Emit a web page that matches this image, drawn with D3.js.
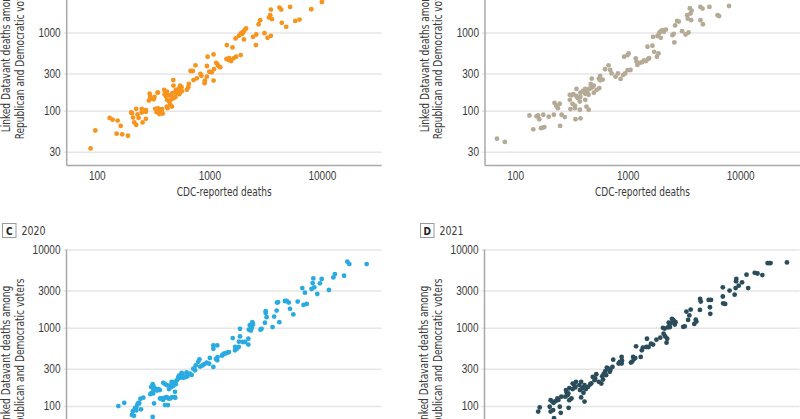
<!DOCTYPE html>
<html>
<head>
<meta charset="utf-8">
<script src="https://cdn.jsdelivr.net/npm/d3@7"></script>
<style>
  body { margin: 0; background: #fff; }
  svg { display: block; font-family: "Liberation Sans Narrow", "DejaVu Sans Condensed", "Roboto", sans-serif; }
  .tick text { fill: #3a3a3a; font-size: 12px; }
  .grid line { stroke: #e6e6e6; stroke-width: 1.5; }
  .axis-line { stroke: #a8a8a8; stroke-width: 1.5; }
  .title { fill: #3a3a3a; font-size: 12px; }
</style>
</head>
<body>
<div id="chart"></div>
<script>
// values: [CDC-reported deaths, linked Datavant deaths]
const deaths2018 = [
  [10000,2450],[8040,1980],[5220,2120],[4200,2080],[4350,1960],[3520,1960],[3475,1660],[3380,1550],[3600,1480],[2830,1435],[2740,1275],[4400,1330],[4820,1180],[5800,1405],[6330,1460],
  [3090,980],[3520,907],[3290,855],[2610,943],[2440,880],[2590,690],
  [2120,1125],[2050,1070],[1990,1020],[1905,970],[1830,907],[2030,815],[1710,839],[1950,960],[2000,1000],
  [1430,690],[1605,645],[1090,525],[965,490],
  [1480,445],[1560,432],[1640,468],[1730,490],[1900,515],[1420,460],[1500,470],
  [1150,410],[1180,390],[1210,370],[1250,360],[1100,340],[1050,310],[1000,315],[951,373],[753,381],[681,322],[713,322],[1090,243],[912,243],[906,225],[950,273],[834,295],[850,280],[774,260],[723,247],[657,220],[650,200],[631,185],
  [550,210],[565,200],[535,192],[525,180],[515,170],[550,172],[570,178],[540,163],
  [478,247],[480,210],[505,185],[495,172],[470,168],[455,160],[440,157],[420,160],[410,155],[400,163],[420,175],[397,185],[346,171],[350,171],
  [295,165],[298,150],[300,142],[290,135],[320,140],[325,150],
  [420,138],[440,130],[460,140],[480,145],[500,150],[450,120],
  [330,106],[345,103],[360,104],[380,105],[375,97],[385,92],[360,91],[340,96],[350,107],
  [419,113],[425,108],[465,113],
  [273,102],[273,97],[251,106],[251,95],[224,106],[202,95],[205,93],[230,90],[210,82],[235,81],[273,79],[255,71],[215,71],[224,66],
  [130,81],[138,77],[153,75],[163,64],[150,51],[168,50],[189,48],[97,56],[88,33]
];
const deaths2019 = [
  [7960,2180],[6300,1660],[6500,1620],[5330,2120],[4430,2120],[4630,2020],[4430,1435],[4660,1275],[3570,2040],[3620,1745],[3660,1435],[3700,1900],[3380,1660],[3420,1500],[2750,1405],[2850,1380],[2640,1230],[3050,1040],[3270,943],[3475,1000],[2565,962],[2500,925],[2600,747],
  [2190,1090],[2040,1070],[1940,1020],[1900,970],[1840,900],[1970,855],[1680,880],[2100,1020],[2000,1050],
  [1880,541],[1820,490],[1720,567],[1500,657],[1660,677],
  [1230,404],[1220,385],[1200,425],[1290,410],[1350,420],[1400,440],[1450,430],[1520,460],[1550,470],[1180,468],
  [1000,515],[1020,540],[930,490],
  [1060,332],[1000,330],[911,287],[865,255],[780,273],[700,332],[676,381],[630,339],[720,300],[820,300],[950,300],
  [570,278],[555,258],[600,250],[570,245],[480,258],
  [470,220],[500,210],[485,200],[470,195],[460,192],[450,188],[430,182],[410,175],[420,165],[440,168],[400,180],
  [380,170],[420,190],[450,160],[500,170],[530,185],[560,195],
  [351,190],[306,160],[318,158],[330,163],[306,138],[324,122],[340,116],[376,131],[420,138],[430,113],[376,103],[340,108],[310,105],[380,150],[360,145],[350,155],
  [249,123],[240,108],[259,89],[276,83],[224,126],[232,116],[221,89],[199,84],[178,89],[160,87],[155,85],[134,87],[164,78],
  [176,61],[170,60],[182,62],[145,58],[251,64],[344,78],[381,80],[451,103],[69,44],[81,40]
];
const deaths2020 = [
  [25100,6520],[16900,6970],[17600,6520],[15800,4620],[13100,4850],[12700,4400],[11600,3040],[10000,4200],[9640,3700],[8430,4270],[8310,3730],[8130,3130],[8600,3290],[9140,2700],
  [6730,3220],[7100,2810],[7360,2020],[6900,1960],[6120,2160],
  [4890,2200],[5100,2100],[4710,2200],[4090,2120],[4000,2100],[5230,1745],[5600,1480],
  [3980,1660],[3780,1390],[4200,1180],[3660,1020],[3180,1630],[3180,1540],[3240,1365],[3130,1160],[2920,970],[2860,945],
  [2400,1000],[2450,1100],[2350,1050],[2300,1080],[2250,950],[2350,920],[2420,1180],
  [1880,970],[1880,776],[1840,664],[1830,568],[2230,724],[2230,610],[2090,658],[1990,658],[1620,739],
  [1700,568],[1760,541],[1700,515],
  [1090,595],[1180,595],[1180,384],[1190,423],[1150,400],[1090,540],
  [1320,454],[1360,467],[1400,470],[1450,480],[1500,490],[1300,440],
  [1015,411],[950,359],[1090,316],[1000,348],[820,395],[800,367],[906,342],
  [749,287],[723,300],[760,330],[830,320],[870,330],
  [676,260],[650,255],[700,250],[640,240],[620,235],[630,270],[590,230],
  [570,266],[580,255],[560,250],[540,245],[550,230],[530,230],
  [520,215],[500,205],[505,190],[490,200],[480,195],[470,200],[478,180],[464,204],
  [391,198],[405,192],[420,185],[440,183],[440,165],[460,175],
  [330,168],[320,180],[315,190],[305,175],[320,160],[345,158],[355,165],[365,160],
  [308,147],[318,145],[300,142],[260,128],[245,124],[324,108],
  [366,125],[380,125],[390,120],[405,128],[420,130],[435,125],[450,125],[470,130],[495,130],[500,128],
  [405,103],[430,103],[497,152],
  [239,108],[235,110],[230,104],[225,96],[219,94],[225,88],[210,86],[206,77],[215,75],[248,91],
  [176,110],[156,100],[315,73]
];
const deaths2021 = [
  [26300,6840],[17700,6700],[18300,6700],[18800,6700],[15900,4720],[13600,5040],[14400,4940],[11500,4770],[10500,3810],[11900,3220],
  [9330,4200],[9270,3920],[9200,3220],[9800,3450],[8130,2990],[9020,2650],
  [7080,3290],[7080,2510],[7430,2020],[7130,2050],
  [5560,2270],[5300,2270],[5440,1830],[5480,1510],[4450,2340],[4510,2160],[4430,1690],
  [3670,1710],[3360,1610],[3480,1260],[3570,1440],[3250,1040],[3150,1030],[4070,1270],[3950,1120],[4120,1200],
  [2565,1260],[2440,1150],[2340,1160],[2690,1180],[2600,1220],[2500,1300],[2650,1100],[2080,1000],[2150,980],[2400,1020],[2300,1010],
  [2110,839],[2180,776],[1970,747],[1820,704],[2240,645],[2270,725],[1500,724],
  [1630,626],[1700,610],[1550,568],[1480,568],[1380,558],[1350,515],[1320,424],[1200,580],
  [1130,424],[1150,400],[1180,410],[1080,360],[1110,370],[893,424],[893,349],[860,366],[900,380],[840,350],
  [752,392],[740,316],[700,274],[710,290],[650,248],[610,218],[560,204],[590,194],[660,310],[640,280],[620,260],[600,240],[680,300],
  [532,255],[495,236],[513,214],[470,190],[450,176],[480,195],[520,225],
  [390,204],[376,185],[418,185],[381,160],[409,148],[390,129],[418,114],[400,170],[430,165],
  [328,194],[351,204],[346,173],[328,165],[306,169],[340,185],
  [286,160],[295,138],[282,132],[290,150],[300,145],
  [260,132],[232,116],[222,110],[252,98],[245,120],[240,125],
  [209,119],[216,114],[220,89],[209,85],[167,96],[162,85],
  [306,119],[320,125],[302,95],[257,82],[224,70],[205,98]
];

const xTicks = [100, 1000, 10000];
const yTicks = [30, 100, 300, 1000, 3000, 10000];
const panelLetters = ["A", "B", "C", "D"];
const panelYears = ["2018", "2019", "2020", "2021"];
const panelColors = ["#f7941d", "#b5aa96", "#29abe2", "#2b4d5b"];

// natural width of a string at 12px
function measure(svg, str) {
    var t = svg.append("text").style("font-size", "12px").text(str);
    var w = t.node().getComputedTextLength();
    t.remove();
    return w;
}

// squeeze a text selection by factor k
function squeeze(sel, k) {
    sel.each(function() {
        var w = this.getComputedTextLength();
        d3.select(this).attr("textLength", w * k).attr("lengthAdjust", "spacingAndGlyphs");
    });
}

function init() {
    var width = 800, height = 419;
    var plotW = 315, plotH = 211.3;
    var origins = [[66.7, -45.8], [485, -45.8], [66.5, 249.5], [484.5, 249.5]];
    var datasets = [deaths2018, deaths2019, deaths2020, deaths2021];

    var svg = d3.select("#chart").append("svg")
        .attr("width", width)
        .attr("height", height);

    var kTick = 28.7 / measure(svg, "10000");
    var kX = 95 / measure(svg, "CDC-reported deaths");
    var kY = 142 / measure(svg, "Linked Datavant deaths among");
    var kYear = 24 / measure(svg, "2020");

    var xScale = d3.scaleLog().domain([54, 34000]).range([0, plotW]);
    var yScale = d3.scaleLog().domain([20, 10000]).range([plotH, 0]);

    datasets.forEach(function(data, i) {
        var g = svg.append("g")
            .attr("transform", `translate(${origins[i][0]}, ${origins[i][1]})`);

        // gridlines + y labels
        var yAxis = g.append("g")
            .attr("class", "grid")
            .attr("transform", "translate(-3, 0)")
            .call(d3.axisLeft(yScale)
                .tickValues(yTicks)
                .tickFormat(d3.format("d"))
                .tickSize(-(plotW + 3))
                .tickPadding(3));
        yAxis.select(".domain").remove();
        squeeze(yAxis.selectAll("text"), kTick);

        var xAxis = g.append("g")
            .attr("transform", `translate(0, ${plotH})`)
            .call(d3.axisBottom(xScale)
                .tickValues(xTicks)
                .tickFormat(d3.format("d"))
                .tickSize(0)
                .tickPadding(6));
        xAxis.select(".domain").remove();
        squeeze(xAxis.selectAll("text"), kTick);

        g.append("line").attr("class", "axis-line")
            .attr("x1", 0).attr("x2", 0).attr("y1", 0).attr("y2", plotH);
        g.append("line").attr("class", "axis-line")
            .attr("x1", 0).attr("x2", plotW).attr("y1", plotH).attr("y2", plotH);

        g.append("g")
            .selectAll("circle")
            .data(data)
            .join("circle")
            .attr("cx", d => xScale(d[0]))
            .attr("cy", d => yScale(d[1]))
            .attr("r", 2.4)
            .attr("fill", panelColors[i]);

        var xt = g.append("text").attr("class", "title")
            .attr("x", plotW / 2)
            .attr("y", plotH + 31)
            .attr("text-anchor", "middle")
            .text("CDC-reported deaths");
        squeeze(xt, kX);

        var yt1 = g.append("text").attr("class", "title")
            .attr("transform", `translate(-56.5, ${plotH / 2 + 1.5}) rotate(-90)`)
            .attr("text-anchor", "middle")
            .text("Linked Datavant deaths among");
        var yt2 = g.append("text").attr("class", "title")
            .attr("transform", `translate(-43, ${plotH / 2 + 1.5}) rotate(-90)`)
            .attr("text-anchor", "middle")
            .text("Republican and Democratic voters");
        squeeze(yt1, kY);
        squeeze(yt2, kY);

        // panel letter box and year
        g.append("rect")
            .attr("x", -64).attr("y", -26)
            .attr("width", 13.5).attr("height", 14)
            .attr("fill", "#fff")
            .attr("stroke", "#9a9a9a")
            .attr("stroke-width", 1);
        g.append("text")
            .attr("x", -57.2).attr("y", -15)
            .attr("text-anchor", "middle")
            .style("font-size", "10px")
            .style("font-weight", "bold")
            .attr("fill", "#222")
            .text(panelLetters[i]);
        var yr = g.append("text").attr("class", "title")
            .attr("x", -45).attr("y", -14.5)
            .text(panelYears[i]);
        squeeze(yr, kYear);
    });
}

window.onload = init;
</script>
</body>
</html>
